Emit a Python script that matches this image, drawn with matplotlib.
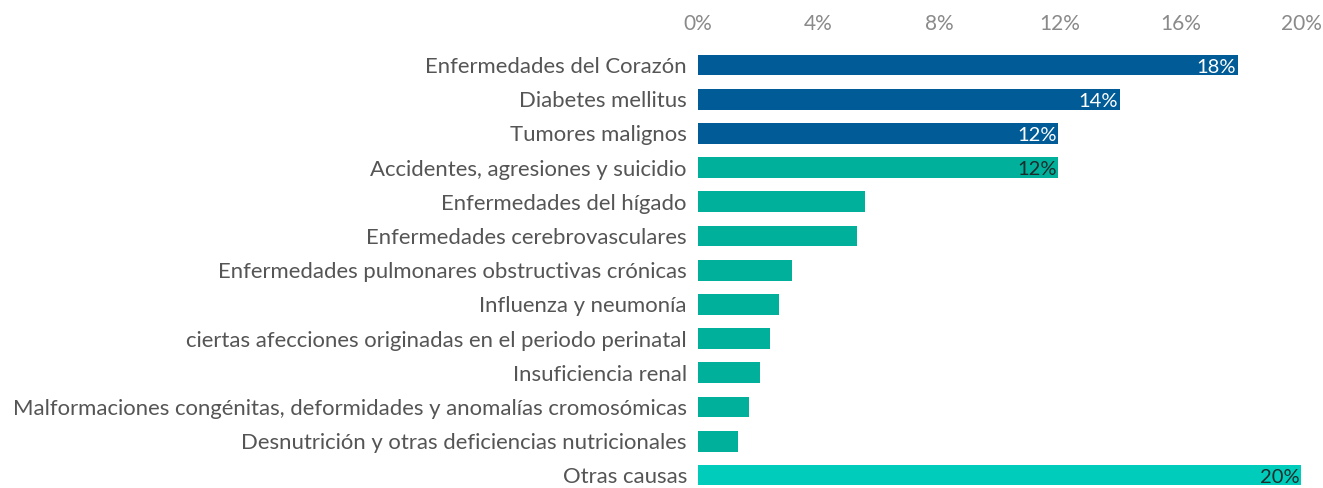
import numpy as np
import matplotlib.pyplot as plt

causes = [
    "Enfermedades del Corazón",
    "Diabetes mellitus",
    "Tumores malignos",
    "Accidentes, agresiones y suicidio",
    "Enfermedades del hígado",
    "Enfermedades cerebrovasculares",
    "Enfermedades pulmonares obstructivas crónicas",
    "Influenza y neumonía",
    "ciertas afecciones originadas en el periodo perinatal",
    "Insuficiencia renal",
    "Malformaciones congénitas, deformidades y anomalías cromosómicas",
    "Desnutrición y otras deficiencias nutricionales",
    "Otras causas",
]
shares = [17.9, 14.0, 11.95, 11.95, 5.55, 5.27, 3.12, 2.7, 2.4, 2.06, 1.7, 1.33, 20.0]
labels = ["18%", "14%", "12%", "12%", "", "", "", "", "", "", "", "", "20%"]

BLUE = "#005b96"
TEAL = "#00b09b"
LIGHT_TEAL = "#00ccbc"
colors = [BLUE] * 3 + [TEAL] * 9 + [LIGHT_TEAL]
label_colors = ["white"] * 3 + ["#1c2b2b"] * 10

plt.rcParams['font.family'] = ['Lato', 'DejaVu Sans']

fig = plt.figure(figsize=(13.23, 4.88), dpi=100)
# axes box in pixels: x 698..1301, y from 3.4 px above the bottom, 436.7 px tall
ax = fig.add_axes([698 / 1323, 3.4 / 488, (1301 - 698) / 1323, 436.7 / 488])

y = np.arange(len(causes))
ax.barh(y, shares, height=0.61, color=colors)

for yi, v, lab, c in zip(y, shares, labels, label_colors):
    if lab:
        ax.text(v - 0.06, yi + 0.06, lab, ha="right", va="center",
                color=c, fontsize=14.5)

ax.set_xlim(0, 20)
ax.set_ylim(12.27, -0.5)
ax.set_yticks(y)
ax.set_yticklabels(causes, fontsize=15.9, color="#555555")
ax.set_xticks(np.arange(0, 21, 4))
ax.set_xticklabels([f"{t}%" for t in range(0, 21, 4)], fontsize=15,
                   color="#8a8a8a")
ax.xaxis.tick_top()
ax.tick_params(axis="both", length=0)
ax.tick_params(axis="x", pad=10)
ax.tick_params(axis="y", pad=8)
for s in ax.spines.values():
    s.set_visible(False)

fig.savefig("out.png", dpi=100)
